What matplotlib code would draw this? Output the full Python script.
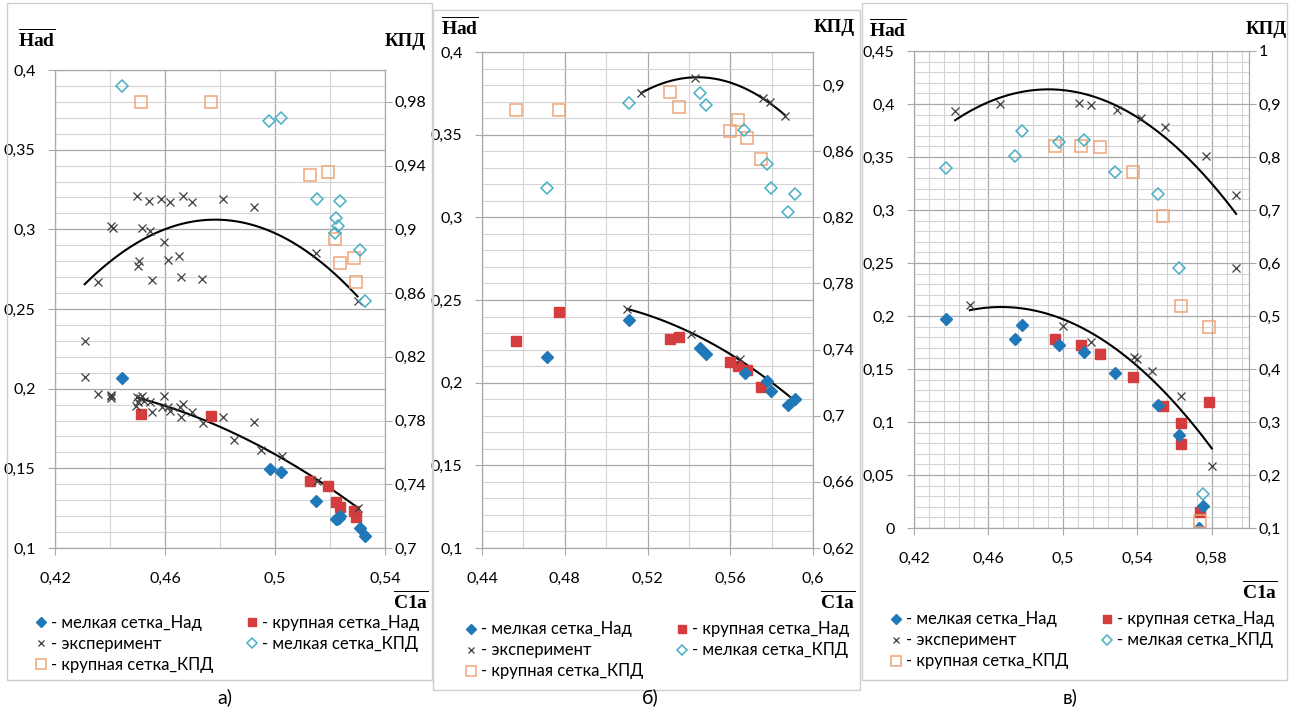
import numpy as np
import matplotlib.pyplot as plt
from matplotlib.patches import Rectangle
from matplotlib.ticker import FixedLocator, FuncFormatter

# Шрифты
plt.rcParams['font.family'] = ['Lato', 'DejaVu Sans']
plt.rcParams['mathtext.fontset'] = 'custom'
plt.rcParams['mathtext.rm'] = 'Liberation Serif'
plt.rcParams['mathtext.bf'] = 'Liberation Serif:bold'

# ---------------- Данные, а) ----------------
a_fine_had_x = [0.4442, 0.4981, 0.5021, 0.5149, 0.5220, 0.5226, 0.5232, 0.5238, 0.5308, 0.5329]
a_fine_had_y = [0.2065, 0.1496, 0.1475, 0.1297, 0.1184, 0.1180, 0.1188, 0.1201, 0.1126, 0.1077]
a_coarse_had_x = [0.4512, 0.4769, 0.5129, 0.5192, 0.5220, 0.5238, 0.5287, 0.5296]
a_coarse_had_y = [0.1839, 0.1826, 0.1418, 0.1387, 0.1287, 0.1255, 0.1234, 0.1197]
a_exp_had_x = [0.4308, 0.4308, 0.4357, 0.4405, 0.4405, 0.4405, 0.4499, 0.4510, 0.4516, 0.4495,
               0.4500, 0.4522, 0.4546, 0.4553, 0.4596, 0.4588, 0.4612, 0.4619, 0.4653, 0.4659,
               0.4666, 0.4699, 0.4738, 0.4811, 0.4851, 0.4924, 0.4949, 0.5024, 0.5151, 0.5300]
a_exp_had_y = [0.2299, 0.2071, 0.1964, 0.1952, 0.1941, 0.1960, 0.1948, 0.1941, 0.1952, 0.1893,
               0.1914, 0.1920, 0.1916, 0.1851, 0.1952, 0.1887, 0.1887, 0.1858, 0.1887, 0.1824,
               0.1904, 0.1851, 0.1782, 0.1824, 0.1676, 0.1789, 0.1617, 0.1580, 0.1423, 0.1249]
a_fine_kpd_x = [0.4442, 0.4978, 0.5020, 0.5151, 0.5238, 0.5220, 0.5230, 0.5219, 0.5308, 0.5329]
a_fine_kpd_y = [0.990, 0.968, 0.970, 0.919, 0.918, 0.907, 0.902, 0.898, 0.887, 0.855]
a_coarse_kpd_x = [0.4513, 0.4769, 0.5128, 0.5192, 0.5219, 0.5238, 0.5287, 0.5295]
a_coarse_kpd_y = [0.980, 0.980, 0.934, 0.936, 0.894, 0.879, 0.882, 0.867]
a_exp_kpd_x = [0.4499, 0.4540, 0.4587, 0.4619, 0.4665, 0.4698, 0.4811, 0.4924, 0.4405, 0.4410,
               0.4517, 0.4545, 0.4595, 0.4610, 0.4650, 0.4507, 0.4503, 0.4355, 0.4553, 0.4659,
               0.4735, 0.5148, 0.5300]
a_exp_kpd_y = [0.921, 0.918, 0.919, 0.917, 0.921, 0.917, 0.919, 0.914, 0.902, 0.901,
               0.901, 0.899, 0.892, 0.881, 0.883, 0.880, 0.877, 0.867, 0.868, 0.870,
               0.869, 0.885, 0.855]
# точки линий тренда
a_trend_had_x = [0.4499, 0.46, 0.48, 0.50, 0.52, 0.53]
a_trend_had_y = [0.1946, 0.1890, 0.1757, 0.1590, 0.1381, 0.1249]
a_trend_kpd_x = [0.4308, 0.46, 0.4786, 0.50, 0.515, 0.53]
a_trend_kpd_y = [0.8659, 0.8995, 0.9057, 0.8975, 0.8835, 0.8568]

# ---------------- Данные, б) ----------------
b_fine_had_x = [0.4713, 0.5110, 0.5452, 0.5481, 0.5669, 0.5777, 0.5798, 0.5879, 0.5911]
b_fine_had_y = [0.2156, 0.2377, 0.2207, 0.2176, 0.2056, 0.2012, 0.1949, 0.1867, 0.1901]
b_coarse_had_x = [0.4563, 0.4774, 0.5307, 0.5350, 0.5599, 0.5637, 0.5679, 0.5750]
b_coarse_had_y = [0.2253, 0.2428, 0.2263, 0.2277, 0.2128, 0.2102, 0.2076, 0.1975]
b_exp_had_x = [0.5102, 0.5412, 0.5645, 0.5900]
b_exp_had_y = [0.2448, 0.2293, 0.2146, 0.1900]
b_fine_kpd_x = [0.5110, 0.4713, 0.5452, 0.5481, 0.5666, 0.5779, 0.5798, 0.5911, 0.5879]
b_fine_kpd_y = [0.889, 0.838, 0.895, 0.888, 0.873, 0.852, 0.838, 0.834, 0.823]
b_coarse_kpd_x = [0.4563, 0.4774, 0.5307, 0.5350, 0.5637, 0.5599, 0.5679, 0.5750]
b_coarse_kpd_y = [0.885, 0.885, 0.896, 0.887, 0.879, 0.872, 0.868, 0.855]
b_exp_kpd_x = [0.5170, 0.5428, 0.5758, 0.5794, 0.5863]
b_exp_kpd_y = [0.8954, 0.9042, 0.8923, 0.8895, 0.8812]
b_trend_had_x = b_exp_had_x
b_trend_had_y = b_exp_had_y
b_trend_kpd_x = b_exp_kpd_x
b_trend_kpd_y = b_exp_kpd_y

# ---------------- Данные, в) ----------------
c_fine_had_x = [0.4370, 0.4740, 0.4781, 0.4980, 0.5113, 0.5280, 0.5511, 0.5623, 0.5752, 0.5730]
c_fine_had_y = [0.1972, 0.1780, 0.1912, 0.1727, 0.1664, 0.1460, 0.1158, 0.0879, 0.0210, 0.0000]
c_coarse_had_x = [0.4959, 0.5099, 0.5199, 0.5379, 0.5538, 0.5637, 0.5637, 0.5784, 0.5737]
c_coarse_had_y = [0.1780, 0.1724, 0.1642, 0.1428, 0.1152, 0.0992, 0.0797, 0.1190, 0.0150]
c_exp_had_x = [0.4500, 0.4998, 0.5151, 0.5384, 0.5397, 0.5479, 0.5637, 0.5800]
c_exp_had_y = [0.2104, 0.1906, 0.1752, 0.1611, 0.1598, 0.1485, 0.1250, 0.0581]
c_fine_kpd_x = [0.4370, 0.4740, 0.4781, 0.4980, 0.5113, 0.5280, 0.5511, 0.5623, 0.5752]
c_fine_kpd_y = [0.780, 0.802, 0.850, 0.828, 0.832, 0.771, 0.730, 0.590, 0.164]
c_coarse_kpd_x = [0.4959, 0.5099, 0.5199, 0.5379, 0.5538, 0.5637, 0.5784, 0.5737]
c_coarse_kpd_y = [0.820, 0.820, 0.818, 0.771, 0.688, 0.518, 0.480, 0.114]
c_exp_kpd_x = [0.4421, 0.4661, 0.5088, 0.5151, 0.5291, 0.5420, 0.5551, 0.5770, 0.5931, 0.5931]
c_exp_kpd_y = [0.886, 0.900, 0.902, 0.899, 0.889, 0.874, 0.856, 0.802, 0.729, 0.591]
c_trend_had_x = [0.45, 0.4675, 0.50, 0.5384, 0.5637, 0.58]
c_trend_had_y = [0.2063, 0.2094, 0.1915, 0.1611, 0.1099, 0.0738]
c_trend_kpd_x = [0.4421, 0.46, 0.4891, 0.50, 0.54, 0.5551, 0.577, 0.5931]
c_trend_kpd_y = [0.870, 0.9066, 0.9242, 0.9224, 0.872, 0.8404, 0.774, 0.6826]

panel_letters = ['а)', 'б)', 'в)']
legend_labels = ['- мелкая сетка_Над', '- эксперимент', '- крупная сетка_КПД',
                 '- крупная сетка_Над', '- мелкая сетка_КПД']

# цвета
FINE_HAD = '#1f78b8'
COARSE_HAD = '#d43d3d'
EXP = '#3c3c3c'
FINE_KPD = '#48b0c2'
COARSE_KPD = '#efa57a'
GRID_MIN = '#d4d4d4'
GRID_MAJ = '#a9a9a9'

W, H = 1290, 726
fig = plt.figure(figsize=(W / 100, H / 100), dpi=100)


def fx(px):
    return px / W


def fy(py):
    return 1 - py / H


def comma(v, p):
    return ('%g' % round(v, 3)).replace('.', ',')


def steps(lo, hi, step):
    n = int(round((hi - lo) / step))
    return [lo + k * step for k in range(n + 1)]


# настройки панелей: рамка, оси, диапазоны
panels = [
    dict(box=(7, 3, 432, 680), ax=(55, 70, 385, 548),
         xlim=(0.42, 0.54), xmin=0.02, ylim=(0.1, 0.4),
         y2lim=(0.7, 1.0), y2ticks=steps(0.70, 0.98, 0.04),
         had=(37, 38), kpd=(405, 42), c1a=(411, 600), leg=(28, 607), letter=(225, 697),
         data=(a_fine_had_x, a_fine_had_y, a_coarse_had_x, a_coarse_had_y, a_exp_had_x, a_exp_had_y,
               a_fine_kpd_x, a_fine_kpd_y, a_coarse_kpd_x, a_coarse_kpd_y, a_exp_kpd_x, a_exp_kpd_y,
               a_trend_had_x, a_trend_had_y, a_trend_kpd_x, a_trend_kpd_y)),
    dict(box=(433, 10, 860, 690), ax=(482, 52, 813, 548),
         xlim=(0.44, 0.6), xmin=0.02, ylim=(0.1, 0.4),
         y2lim=(0.62, 0.92), y2ticks=steps(0.62, 0.90, 0.04),
         had=(460, 26), kpd=(834, 28), c1a=(838, 600), leg=(458, 613), letter=(650, 697),
         data=(b_fine_had_x, b_fine_had_y, b_coarse_had_x, b_coarse_had_y, b_exp_had_x, b_exp_had_y,
               b_fine_kpd_x, b_fine_kpd_y, b_coarse_kpd_x, b_coarse_kpd_y, b_exp_kpd_x, b_exp_kpd_y,
               b_trend_had_x, b_trend_had_y, b_trend_kpd_x, b_trend_kpd_y)),
    dict(box=(862, 3, 1287, 680), ax=(914, 51, 1249, 528),
         xlim=(0.42, 0.6), xmin=0.008, ylim=(0.0, 0.45),
         y2lim=(0.1, 1.0), y2ticks=steps(0.1, 1.0, 0.1),
         had=(888, 28), kpd=(1266, 30), c1a=(1260, 590), leg=(883, 603), letter=(1070, 697),
         data=(c_fine_had_x, c_fine_had_y, c_coarse_had_x, c_coarse_had_y, c_exp_had_x, c_exp_had_y,
               c_fine_kpd_x, c_fine_kpd_y, c_coarse_kpd_x, c_coarse_kpd_y, c_exp_kpd_x, c_exp_kpd_y,
               c_trend_had_x, c_trend_had_y, c_trend_kpd_x, c_trend_kpd_y)),
]

for i, p in enumerate(panels):
    (fhx, fhy, chx, chy, ehx, ehy, fkx, fky, ckx, cky, ekx, eky,
     thx, thy, tkx, tky) = p['data']

    # рамка диаграммы
    bx0, by0, bx1, by1 = p['box']
    fig.patches.append(Rectangle((fx(bx0), fy(by1)), fx(bx1) - fx(bx0), fy(by0) - fy(by1),
                                 transform=fig.transFigure, fill=False,
                                 edgecolor='#cfcfcf', lw=1.0))

    x0, y0, x1, y1 = p['ax']
    ax = fig.add_axes([fx(x0), fy(y1), fx(x1) - fx(x0), fy(y0) - fy(y1)])
    ax2 = ax.twinx()

    xlo, xhi = p['xlim']
    ylo, yhi = p['ylim']
    ax.set_xlim(xlo, xhi)
    ax.set_ylim(ylo, yhi)
    ax2.set_ylim(*p['y2lim'])

    # деления начинаются от минимума шкалы, как в Excel
    ax.xaxis.set_major_locator(FixedLocator(steps(xlo, xhi, 0.04)))
    ax.xaxis.set_minor_locator(FixedLocator(steps(xlo, xhi, p['xmin'])))
    ax.yaxis.set_major_locator(FixedLocator(steps(ylo, yhi, 0.05)))
    ax.yaxis.set_minor_locator(FixedLocator(steps(ylo, yhi, 0.01)))
    ax2.yaxis.set_major_locator(FixedLocator(p['y2ticks']))
    for a in (ax.xaxis, ax.yaxis, ax2.yaxis):
        a.set_major_formatter(FuncFormatter(comma))

    ax.grid(which='minor', color=GRID_MIN, lw=0.8)
    ax.grid(which='major', color=GRID_MAJ, lw=0.9)
    ax.set_axisbelow(True)
    ax.tick_params(which='minor', length=0)
    ax.tick_params(axis='x', which='major', length=5, color=GRID_MAJ, labelsize=11.5, pad=12)
    ax.tick_params(axis='y', which='major', length=5, color=GRID_MAJ, labelsize=11.5, pad=9)
    ax2.tick_params(length=5, color=GRID_MAJ, labelsize=11.5, pad=2)
    for s in list(ax.spines.values()) + list(ax2.spines.values()):
        s.set_color(GRID_MAJ)

    # линии тренда (полином 2-й степени)
    th = np.polyfit(thx, thy, 2)
    xs = np.linspace(min(thx), max(thx), 100)
    ax.plot(xs, np.polyval(th, xs), color='black', lw=1.5, zorder=2)
    tk = np.polyfit(tkx, tky, 2)
    xs = np.linspace(min(tkx), max(tkx), 100)
    ax2.plot(xs, np.polyval(tk, xs), color='black', lw=1.5, zorder=2)

    # точки
    h_fh, = ax.plot(fhx, fhy, ls='none', marker='D', ms=6.5, color=FINE_HAD, zorder=4)
    h_ch, = ax.plot(chx, chy, ls='none', marker='s', ms=7, color=COARSE_HAD, zorder=3)
    h_ex, = ax.plot(ehx, ehy, ls='none', marker='x', ms=5.5, mew=0.9, color=EXP, zorder=3)
    ax2.plot(ekx, eky, ls='none', marker='x', ms=5.5, mew=0.9, color=EXP, zorder=3)
    h_fk, = ax2.plot(fkx, fky, ls='none', marker='D', ms=6.5, mfc='none', mew=1.1,
                     color=FINE_KPD, zorder=4)
    h_ck, = ax2.plot(ckx, cky, ls='none', marker='s', ms=8, mfc='none', mew=1.1,
                     color=COARSE_KPD, zorder=3)

    # подписи осей
    hx, hy = p['had']
    fig.text(fx(hx), fy(hy), r'$\overline{\mathbf{Had}}$', fontsize=14, ha='center', va='center')
    kx, ky = p['kpd']
    fig.text(fx(kx), fy(ky), 'КПД', fontsize=13.5, fontweight='bold',
             family='Liberation Serif', ha='center', va='center')
    cx, cy = p['c1a']
    fig.text(fx(cx), fy(cy), r'$\overline{\mathbf{C1a}}$', fontsize=14, ha='center', va='center')
    lx, ly = p['letter']
    fig.text(fx(lx), fy(ly), panel_letters[i], fontsize=14, ha='center', va='center')

    # легенда
    gx, gy = p['leg']
    ax.legend([h_fh, h_ex, h_ck, h_ch, h_fk], legend_labels, ncol=2,
              loc='upper left', bbox_to_anchor=(fx(gx), fy(gy)),
              bbox_transform=fig.transFigure, frameon=False, fontsize=12,
              handlelength=0.6, handletextpad=0.3, columnspacing=2.0,
              labelspacing=0.3, borderpad=0, markerscale=0.85)

fig.savefig('out.png', dpi=100, facecolor='white')
